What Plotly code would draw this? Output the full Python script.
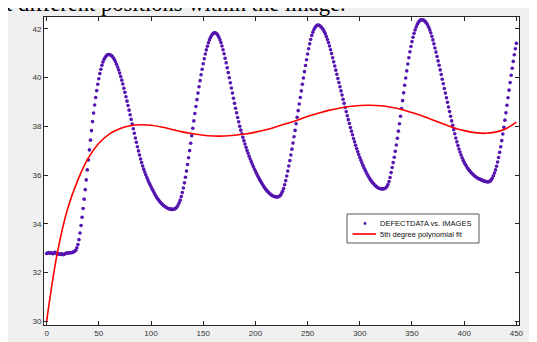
import plotly.graph_objects as go

# ---------------- data ----------------
images = list(range(0, 451))

defect_data = [
    32.78, 32.80, 32.82, 32.79, 32.81, 32.80, 32.77, 32.80, 32.83, 32.79,
    32.76, 32.78, 32.75, 32.74, 32.77, 32.76, 32.73, 32.75, 32.78, 32.80,
    32.79, 32.81, 32.80, 32.82, 32.81, 32.83, 32.85, 32.88, 32.92, 33.02,
    33.15, 33.35, 33.62, 33.93, 34.27, 34.63, 35.01, 35.40, 35.80, 36.21,
    36.62, 37.03, 37.43, 37.82, 38.19, 38.54, 38.87, 39.18, 39.46, 39.72,
    39.95, 40.16, 40.34, 40.50, 40.63, 40.74, 40.82, 40.88, 40.92, 40.94,
    40.94, 40.92, 40.90, 40.86, 40.80, 40.73, 40.64, 40.54, 40.43, 40.31,
    40.18, 40.04, 39.89, 39.73, 39.56, 39.39, 39.21, 39.03, 38.85, 38.66,
    38.47, 38.28, 38.09, 37.90, 37.71, 37.52, 37.34, 37.16, 36.99, 36.82,
    36.66, 36.51, 36.37, 36.24, 36.12, 36.01, 35.90, 35.80, 35.70, 35.61,
    35.52, 35.43, 35.35, 35.27, 35.19, 35.12, 35.05, 34.99, 34.93, 34.88,
    34.83, 34.79, 34.75, 34.72, 34.69, 34.66, 34.64, 34.62, 34.61, 34.60,
    34.59, 34.59, 34.60, 34.62, 34.65, 34.70, 34.77, 34.86, 34.97, 35.12,
    35.28, 35.47, 35.68, 35.91, 36.16, 36.43, 36.71, 37.00, 37.30, 37.61,
    37.92, 38.22, 38.52, 38.81, 39.09, 39.36, 39.62, 39.87, 40.11, 40.34,
    40.56, 40.77, 40.96, 41.13, 41.28, 41.42, 41.54, 41.64, 41.72, 41.78,
    41.82, 41.83, 41.82, 41.79, 41.73, 41.65, 41.55, 41.43, 41.29, 41.14,
    40.97, 40.79, 40.60, 40.40, 40.20, 39.99, 39.78, 39.57, 39.36, 39.15,
    38.94, 38.74, 38.55, 38.36, 38.18, 38.00, 37.84, 37.69, 37.55, 37.41,
    37.27, 37.14, 37.01, 36.89, 36.77, 36.66, 36.55, 36.45, 36.35, 36.25,
    36.16, 36.07, 35.98, 35.90, 35.82, 35.74, 35.67, 35.60, 35.53, 35.47,
    35.41, 35.36, 35.31, 35.27, 35.23, 35.19, 35.16, 35.14, 35.12, 35.11,
    35.10, 35.10, 35.11, 35.13, 35.17, 35.24, 35.33, 35.45, 35.60, 35.77,
    35.96, 36.16, 36.37, 36.59, 36.82, 37.06, 37.31, 37.57, 37.83, 38.10,
    38.37, 38.64, 38.91, 39.18, 39.45, 39.72, 39.98, 40.24, 40.49, 40.73,
    40.96, 41.18, 41.38, 41.56, 41.72, 41.85, 41.96, 42.04, 42.10, 42.14,
    42.15, 42.14, 42.11, 42.07, 42.02, 41.96, 41.88, 41.79, 41.68, 41.56,
    41.43, 41.29, 41.14, 40.98, 40.81, 40.64, 40.47, 40.30, 40.13, 39.96,
    39.79, 39.62, 39.45, 39.28, 39.11, 38.94, 38.77, 38.60, 38.43, 38.27,
    38.11, 37.95, 37.80, 37.65, 37.50, 37.36, 37.22, 37.09, 36.96, 36.84,
    36.72, 36.61, 36.50, 36.40, 36.30, 36.21, 36.12, 36.04, 35.96, 35.89,
    35.82, 35.76, 35.70, 35.65, 35.60, 35.56, 35.52, 35.49, 35.47, 35.45,
    35.44, 35.43, 35.43, 35.44, 35.45, 35.48, 35.53, 35.61, 35.73, 35.90,
    36.10, 36.31, 36.51, 36.73, 36.97, 37.23, 37.51, 37.80, 38.10, 38.41,
    38.73, 39.05, 39.37, 39.68, 39.98, 40.27, 40.55, 40.81, 41.05, 41.27,
    41.47, 41.65, 41.81, 41.95, 42.07, 42.17, 42.25, 42.31, 42.35, 42.37,
    42.37, 42.35, 42.32, 42.28, 42.22, 42.15, 42.06, 41.95, 41.83, 41.69,
    41.54, 41.38, 41.21, 41.04, 40.86, 40.68, 40.50, 40.31, 40.12, 39.93,
    39.74, 39.55, 39.36, 39.17, 38.98, 38.79, 38.60, 38.41, 38.22, 38.04,
    37.86, 37.69, 37.52, 37.36, 37.21, 37.07, 36.94, 36.82, 36.71, 36.61,
    36.52, 36.44, 36.37, 36.30, 36.24, 36.18, 36.13, 36.08, 36.04, 36.00,
    35.96, 35.93, 35.90, 35.87, 35.85, 35.83, 35.81, 35.79, 35.77, 35.75,
    35.74, 35.73, 35.72, 35.72, 35.73, 35.76, 35.81, 35.88, 35.97, 36.08,
    36.21, 36.36, 36.53, 36.72, 36.93, 37.16, 37.41, 37.68, 37.96, 38.25,
    38.55, 38.86, 39.17, 39.48, 39.79, 40.09, 40.38, 40.66, 40.93, 41.18,
    41.40,
]

fit_x = list(range(0, 451, 10))
fit_y = [
    30.00, 32.75, 34.60, 35.80, 36.70, 37.30, 37.68, 37.90, 38.02, 38.06,
    38.04, 37.97, 37.87, 37.77, 37.69, 37.63, 37.60, 37.60, 37.63, 37.68,
    37.76, 37.86, 37.98, 38.11, 38.25, 38.40, 38.53, 38.65, 38.74, 38.81,
    38.85, 38.86, 38.84, 38.78, 38.69, 38.56, 38.42, 38.26, 38.09, 37.94,
    37.82, 37.74, 37.71, 37.76, 37.90, 38.17,
]

x_ticks = [0, 50, 100, 150, 200, 250, 300, 350, 400, 450]
y_ticks = [30, 32, 34, 36, 38, 40, 42]

series_names = ["DEFECTDATA vs. IMAGES", "5th degree polynomial fit"]
caption_text = "at different positions within the image."

DOT_COLOR = "#5514b0"
FIT_COLOR = "#ff0000"

# ---------------- layout geometry ----------------
# The page adds an 8 px body margin, so the figure is 8 px smaller than the window.
W, H = 529, 334
L, R, T, B = 36, 18, 9, 17
PW, PH = W - L - R, H - T - B


def px_x(px):
    return (px - L) / PW


def px_y(py):
    return (H - B - py) / PH


fig = go.Figure()

fig.add_trace(go.Scatter(
    x=images, y=defect_data, mode="markers", name=series_names[0],
    marker=dict(size=3.6, color=DOT_COLOR, line=dict(width=0)),
    showlegend=False,
))
fig.add_trace(go.Scatter(
    x=fit_x, y=fit_y, mode="lines", name=series_names[1],
    line=dict(color=FIT_COLOR, width=1.6, shape="spline", smoothing=1.0),
    showlegend=False,
))

axis_common = dict(
    showline=True, linecolor="#262626", linewidth=1, mirror="allticks",
    ticks="inside", ticklen=4, tickwidth=1, tickcolor="#262626",
    showgrid=False, zeroline=False, automargin=False,
    tickfont=dict(family="Liberation Sans, Arial", size=8, color="#333333"),
)

# legend box (layout decorations; its texts are real text)
LG_X0, LG_X1, LG_Y0, LG_Y1 = 339, 471, 206, 235
ROW1, ROW2 = 215.5, 226.0

shapes = [
    dict(type="rect", xref="paper", yref="paper",
         x0=px_x(LG_X0), x1=px_x(LG_X1), y0=px_y(LG_Y1), y1=px_y(LG_Y0),
         fillcolor="#ffffff", line=dict(color="#555555", width=1), layer="above"),
    dict(type="circle", xref="paper", yref="paper",
         x0=px_x(355.6), x1=px_x(358.4), y0=px_y(ROW1 + 1.4), y1=px_y(ROW1 - 1.4),
         fillcolor=DOT_COLOR, line=dict(width=0), layer="above"),
    dict(type="line", xref="paper", yref="paper",
         x0=px_x(344.5), x1=px_x(368), y0=px_y(ROW2), y1=px_y(ROW2),
         line=dict(color=FIT_COLOR, width=1.6), layer="above"),
]

annotations = [
    dict(text=caption_text, xref="paper", yref="paper",
         x=px_x(340), y=px_y(10), xanchor="right", yanchor="bottom",
         showarrow=False,
         font=dict(family="Liberation Serif, Times New Roman", size=22.6, color="#000000")),
    dict(text=series_names[0], xref="paper", yref="paper",
         x=px_x(370), y=px_y(ROW1), xanchor="left", yanchor="middle",
         showarrow=False,
         font=dict(family="Liberation Sans, Arial", size=7.5, color="#111111")),
    dict(text=series_names[1], xref="paper", yref="paper",
         x=px_x(370), y=px_y(ROW2), xanchor="left", yanchor="middle",
         showarrow=False,
         font=dict(family="Liberation Sans, Arial", size=7.5, color="#111111")),
]

fig.update_layout(
    template="none",
    width=W, height=H, autosize=False,
    margin=dict(l=L, r=R, t=T, b=B, pad=0, autoexpand=False),
    paper_bgcolor="#f0f0f0",
    plot_bgcolor="#ffffff",
    xaxis=dict(range=[-2.5, 452.5], tickvals=x_ticks, **axis_common),
    yaxis=dict(range=[29.85, 42.48], tickvals=y_ticks, **axis_common),
    showlegend=False,
    shapes=shapes,
    annotations=annotations,
)

fig.write_html("out.html")
